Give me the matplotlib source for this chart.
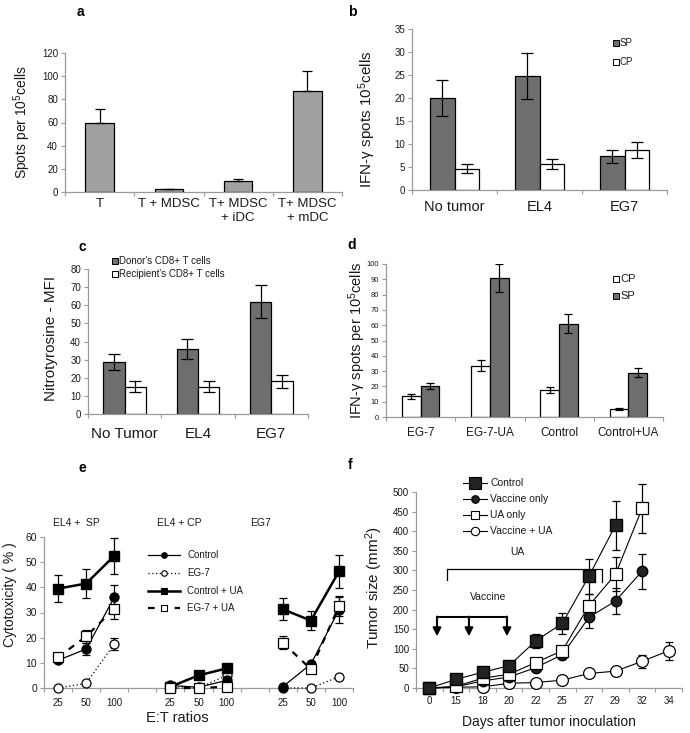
import numpy as np
import matplotlib
matplotlib.use('Agg')
import matplotlib.pyplot as plt
from matplotlib.lines import Line2D
from matplotlib.patches import Rectangle

plt.rcParams['font.family'] = ['Liberation Sans', 'DejaVu Sans']
plt.rcParams['mathtext.fontset'] = 'custom'
plt.rcParams['mathtext.rm'] = 'Liberation Sans'
plt.rcParams['mathtext.it'] = 'Liberation Sans:italic'
plt.rcParams['mathtext.bf'] = 'Liberation Sans:bold'

nan = np.nan

# ---------------- data ----------------
# Panel a
a_cats = ['T', 'T + MDSC', 'T+ MDSC\n+ iDC', 'T+ MDSC\n+ mDC']
a_vals = [59.5, 2.2, 9.8, 87.5]
a_err = [12, 0.5, 1.7, 17]

# Panel b
b_cats = ['No tumor', 'EL4', 'EG7']
b_sp = [20, 24.7, 7.3]
b_sp_err = [4, 5, 1.5]
b_cp = [4.6, 5.6, 8.7]
b_cp_err = [1, 1.1, 1.8]

# Panel c
c_cats = ['No Tumor', 'EL4', 'EG7']
c_donor = [28.7, 36, 62]
c_donor_err = [4.3, 5.5, 9.3]
c_recip = [15, 15, 18]
c_recip_err = [3, 3, 3.5]

# Panel d
d_cats = ['EG-7', 'EG-7-UA', 'Control', 'Control+UA']
d_cp = [13.5, 33.5, 17.5, 5.2]
d_cp_err = [1.5, 3.5, 1.8, 0.5]
d_sp = [20.5, 91, 61, 29]
d_sp_err = [2, 9, 6, 2.8]

# Panel e (positions 0-2: EL4+SP, 4-6: EL4+CP, 8-10: EG7)
e_ticklabels = ['25', '50', '100', '', '25', '50', '100', '', '25', '50', '100']
e_groups = ['EL4 +  SP', 'EL4 + CP', 'EG7']
e_control = [11, 15.5, 36, nan, 1, 0.3, 3, nan, 0.5, 9.5, 31]
e_control_err = [0.8, 2.2, 5, nan, 0.3, 0.3, 0.5, nan, 0.3, 1, 5]
e_eg7 = [0, 1.8, 17.5, nan, 0, 0, 5, nan, 0, 0, 4.5]
e_eg7_err = [0, 0.3, 2.5, nan, 0, 0, 0.5, nan, 0, 0, 0.5]
e_ctrl_ua = [39.5, 41.5, 52.5, nan, 0.5, 5, 7.8, nan, 31.3, 26.8, 46.3]
e_ctrl_ua_err = [5.5, 5.8, 7.3, nan, 0.3, 0.4, 0.5, nan, 4.3, 3.8, 6.5]
e_eg7_ua = [12.2, 20.5, 31.5, nan, 0, 0, 0.5, nan, 18, 7.5, 32.5]
e_eg7_ua_err = [1, 2.5, 4, nan, 0, 0, 0.3, nan, 2.5, 0.5, 4]

# Panel f
f_days = ['0', '15', '18', '20', '22', '25', '27', '29', '32', '34']
f_control = [0, 22, 40, 57, 120, 165, 285, 415, nan, nan]
f_control_err = [0, 3, 4, 5, 18, 26, 45, 63, nan, nan]
f_vaccine = [0, 3, 18, 28, 52, 85, 180, 222, 298, nan]
f_vaccine_err = [0, 1, 2, 3, 5, 8, 28, 33, 45, nan]
f_ua = [0, 4, 25, 35, 65, 95, 210, 290, 458, nan]
f_ua_err = [0, 1, 2, 3, 6, 8, 30, 43, 62, nan]
f_vua = [0, 2, 3, 12, 14, 20, 37, 43, 68, 95]
f_vua_err = [0, 0, 0, 1, 1, 2, 3, 4, 17, 23]

# ---------------- helpers ----------------
W, H = 690, 733
fig = plt.figure(figsize=(6.9, 7.33), dpi=100)

SPINE = '#9a9a9a'
TXT = '#1a1a1a'
LIGHT = '#a0a0a0'
DARK = '#6e6e6e'


def fx(px):
    return px / W


def fy(py):
    return 1 - py / H


def add_ax(l, t, r, b):
    return fig.add_axes([l / W, 1 - b / H, (r - l) / W, (b - t) / H])


def style(ax, ylim, yticks, yfs, ncat, xlabels, xfs, xpad):
    for s in ['top', 'right']:
        ax.spines[s].set_visible(False)
    for s in ['left', 'bottom']:
        ax.spines[s].set_color(SPINE)
        ax.spines[s].set_linewidth(0.9)
    ax.set_ylim(*ylim)
    ax.set_yticks(yticks)
    ax.tick_params(axis='y', direction='out', length=3, width=0.8, color=SPINE,
                   labelsize=yfs, labelcolor=TXT, pad=2)
    ax.set_xlim(-0.5, ncat - 0.5)
    ax.set_xticks(range(ncat))
    ax.set_xticklabels(xlabels, linespacing=1.3)
    ax.tick_params(axis='x', which='major', length=0, pad=xpad, labelsize=xfs,
                   labelcolor=TXT)
    ax.set_xticks(np.arange(-0.5, ncat, 1), minor=True)
    ax.tick_params(axis='x', which='minor', direction='out', length=3, width=0.8,
                   color=SPINE)


def square_legend(x, ys, colors, labels, fs, size=6):
    for y, c, lab in zip(ys, colors, labels):
        fig.add_artist(Rectangle((fx(x), fy(y + size / 2)), size / W, size / H,
                                 facecolor=c, edgecolor='black', lw=0.7,
                                 transform=fig.transFigure))
        fig.text(fx(x + size + 1), fy(y), lab, fontsize=fs, va='center',
                 ha='left', color=TXT)


def line_legend(x0, x1, xt, ys, styles, labels, fs):
    for y, st, lab in zip(ys, styles, labels):
        fig.add_artist(Line2D([fx(x0), fx(x1)], [fy(y), fy(y)], color='black',
                              lw=st['lw'], ls=st['ls'],
                              transform=fig.transFigure))
        fig.add_artist(Line2D([fx((x0 + x1) / 2)], [fy(y)], marker=st['marker'],
                              ms=st['ms'], mfc=st['mfc'], mec='black', mew=0.8,
                              ls='none', transform=fig.transFigure))
        fig.text(fx(xt), fy(y), lab, fontsize=fs, va='center', ha='left',
                 color=TXT)


ekw = dict(ecolor='black', elinewidth=0.9, capthick=0.9, fmt='none')

# ---------------- panel a ----------------
ax = add_ax(65, 53, 342, 192)
xa = np.arange(len(a_cats))
ax.bar(xa, a_vals, width=0.41, color=LIGHT, edgecolor='black', lw=0.9, zorder=2)
ax.errorbar(xa, a_vals, yerr=[np.zeros(len(a_err)), a_err], capsize=3.5, **ekw)
style(ax, (0, 120), range(0, 121, 20), 7, 4, a_cats, 9.5, 4)
ax.set_ylabel(r'Spots per 10$^{5}$cells', fontsize=10, color=TXT)
ax.yaxis.set_label_coords(-0.116, 0.5)
fig.text(fx(80), fy(12), 'a', fontsize=10, fontweight='bold', ha='center', va='center')

# ---------------- panel b ----------------
ax = add_ax(412, 29, 667, 190)
xb = np.arange(len(b_cats))
bw = 0.29
ax.bar(xb - bw / 2, b_sp, width=bw, color=DARK, edgecolor='black', lw=0.9, zorder=2)
ax.bar(xb + bw / 2, b_cp, width=bw, color='white', edgecolor='black', lw=0.9, zorder=2)
ax.errorbar(xb - bw / 2, b_sp, yerr=b_sp_err, capsize=4, **ekw)
ax.errorbar(xb + bw / 2, b_cp, yerr=b_cp_err, capsize=4, **ekw)
style(ax, (0, 35), range(0, 36, 5), 7, 3, b_cats, 10.5, 7)
ax.set_ylabel('IFN-\u03b3 spots 10$^{5}$cells', fontsize=11, color=TXT)
ax.yaxis.set_label_coords(-0.133, 0.44)
square_legend(613, [43, 62], [DARK, 'white'], ['SP', 'CP'], 7, size=6)
fig.text(fx(352), fy(12), 'b', fontsize=10, fontweight='bold', ha='center', va='center')

# ---------------- panel c ----------------
ax = add_ax(88, 269, 308, 414)
xc = np.arange(len(c_cats))
cw = 0.29
ax.bar(xc - cw / 2, c_donor, width=cw, color=DARK, edgecolor='black', lw=0.9, zorder=2)
ax.bar(xc + cw / 2, c_recip, width=cw, color='white', edgecolor='black', lw=0.9, zorder=2)
ax.errorbar(xc - cw / 2, c_donor, yerr=c_donor_err, capsize=4, **ekw)
ax.errorbar(xc + cw / 2, c_recip, yerr=c_recip_err, capsize=4, **ekw)
style(ax, (0, 80), range(0, 81, 10), 7, 3, c_cats, 11, 9)
ax.set_ylabel('Nitrotyrosine - MFI', fontsize=11, color=TXT)
ax.yaxis.set_label_coords(-0.136, 0.52)
square_legend(112, [261, 274], [DARK, 'white'],
              ["Donor's CD8+ T cells", "Recipient's CD8+ T cells"], 7, size=6)
fig.text(fx(82), fy(247), 'c', fontsize=10, fontweight='bold', ha='center', va='center')

# ---------------- panel d ----------------
ax = add_ax(386, 264, 663, 417)
xd = np.arange(len(d_cats))
dw = 0.27
ax.bar(xd - dw / 2, d_cp, width=dw, color='white', edgecolor='black', lw=0.9, zorder=2)
ax.bar(xd + dw / 2, d_sp, width=dw, color=DARK, edgecolor='black', lw=0.9, zorder=2)
ax.errorbar(xd - dw / 2, d_cp, yerr=d_cp_err, capsize=3, **ekw)
ax.errorbar(xd + dw / 2, d_sp, yerr=d_sp_err, capsize=3, **ekw)
style(ax, (0, 100), range(0, 101, 10), 5.5, 4, d_cats, 8.5, 7)
ax.set_ylabel('IFN-\u03b3 spots per 10$^{5}$cells', fontsize=10.5, color=TXT)
ax.yaxis.set_label_coords(-0.065, 0.5)
square_legend(613, [279, 296], ['white', DARK], ['CP', 'SP'], 8, size=6)
fig.text(fx(352), fy(245), 'd', fontsize=10, fontweight='bold', ha='center', va='center')

# ---------------- panel e ----------------
ax = add_ax(44, 537, 353, 688)
xe = np.arange(len(e_ticklabels))
ax.errorbar(xe, e_ctrl_ua, yerr=e_ctrl_ua_err, capsize=3, zorder=2, **ekw)
ax.errorbar(xe, e_control, yerr=e_control_err, capsize=3, zorder=2, **ekw)
ax.errorbar(xe, e_eg7_ua, yerr=e_eg7_ua_err, capsize=3, zorder=2, **ekw)
ax.errorbar(xe, e_eg7, yerr=e_eg7_err, capsize=3, zorder=2, **ekw)
ax.plot(xe, e_ctrl_ua, color='black', lw=1.8, marker='s', ms=6.5, mfc='black',
        mec='black', zorder=4, clip_on=False)
ax.plot(xe, e_eg7, color='black', lw=0.9, ls=(0, (1, 2)), marker='o', ms=6.5,
        mfc='white', mec='black', mew=0.9, zorder=3, clip_on=False)
ax.plot(xe, e_control, color='black', lw=0.9, marker='o', ms=6.5, mfc='black',
        mec='black', zorder=5, clip_on=False)
ax.plot(xe, e_eg7_ua, color='black', lw=1.6, ls=(0, (3, 3)), marker='s', ms=7,
        mfc='white', mec='black', mew=0.9, zorder=6, clip_on=False)
style(ax, (0, 60), range(0, 61, 10), 7.5, 11, e_ticklabels, 7, 7)
ax.set_ylabel('Cytotoxicity ( % )', fontsize=10, color=TXT)
ax.yaxis.set_label_coords(-0.087, 0.62)
fig.text(fx(177), fy(718), 'E:T ratios', fontsize=10.5, ha='center', va='center', color=TXT)
for gx, gl in zip([53, 157, 250], e_groups):
    fig.text(fx(gx), fy(523), gl, fontsize=7.5, ha='left', va='center', color=TXT)
line_legend(148, 180, 187, [555, 573, 591, 608],
            [dict(lw=0.9, ls='-', marker='o', ms=4, mfc='black'),
             dict(lw=0.9, ls=(0, (1, 2)), marker='o', ms=4, mfc='white'),
             dict(lw=1.8, ls='-', marker='s', ms=4.5, mfc='black'),
             dict(lw=1.6, ls=(0, (3, 3)), marker='s', ms=4.5, mfc='white')],
            ['Control', 'EG-7', 'Control + UA', 'EG-7 + UA'], 7)
fig.text(fx(82), fy(468), 'e', fontsize=10, fontweight='bold', ha='center', va='center')

# ---------------- panel f ----------------
ax = add_ax(416, 492, 682, 688)
xf = np.arange(len(f_days))
for vals, err in [(f_control, f_control_err), (f_vaccine, f_vaccine_err),
                  (f_ua, f_ua_err), (f_vua, f_vua_err)]:
    ax.errorbar(xf, vals, yerr=err, capsize=3, zorder=2, clip_on=False, **ekw)
ax.plot(xf, f_vua, color='black', lw=0.8, marker='o', ms=8.5, mfc='white',
        mec='black', mew=0.9, zorder=3, clip_on=False)
ax.plot(xf, f_vaccine, color='black', lw=0.8, marker='o', ms=7.5, mfc='#222222',
        mec='black', zorder=4, clip_on=False)
ax.plot(xf, f_ua, color='black', lw=0.8, marker='s', ms=8.5, mfc='white',
        mec='black', mew=0.9, zorder=5, clip_on=False)
ax.plot(xf, f_control, color='black', lw=0.8, marker='s', ms=8.5, mfc='#222222',
        mec='black', zorder=6, clip_on=False)
style(ax, (0, 500), range(0, 501, 50), 7, 10, f_days, 7, 6)
ax.set_xlabel('Days after tumor inoculation', fontsize=10, color=TXT, labelpad=6)
ax.set_ylabel(r'Tumor size (mm$^{2}$)', fontsize=11, color=TXT)
ax.yaxis.set_label_coords(-0.117, 0.51)
# UA bracket
ax.plot([0.66, 0.66, 6.49, 6.49], [275, 303, 303, 270], color='black', lw=0.9)
ax.text(3.3, 347, 'UA', fontsize=7.5, ha='center', va='center', color=TXT)
# Vaccine arrows
ax.plot([0.29, 2.92], [181, 181], color='black', lw=1.5)
for xv in [0.29, 1.49, 2.92]:
    ax.annotate('', xy=(xv, 132), xytext=(xv, 182),
                arrowprops=dict(arrowstyle='-|>', color='black', lw=1.5,
                                mutation_scale=12, shrinkA=0, shrinkB=0))
ax.text(2.2, 232, 'Vaccine', fontsize=7.5, ha='center', va='center', color=TXT)
line_legend(463, 487, 490, [483, 499, 515, 531],
            [dict(lw=0.8, ls='-', marker='s', ms=8, mfc='#222222'),
             dict(lw=0.8, ls='-', marker='o', ms=5.5, mfc='#222222'),
             dict(lw=0.8, ls='-', marker='s', ms=6, mfc='white'),
             dict(lw=0.8, ls='-', marker='o', ms=6, mfc='white')],
            ['Control', 'Vaccine only', 'UA only', 'Vaccine + UA'], 7.5)
fig.text(fx(350), fy(465), 'f', fontsize=10, fontweight='bold', ha='center', va='center')

fig.savefig('out.png', dpi=100)
